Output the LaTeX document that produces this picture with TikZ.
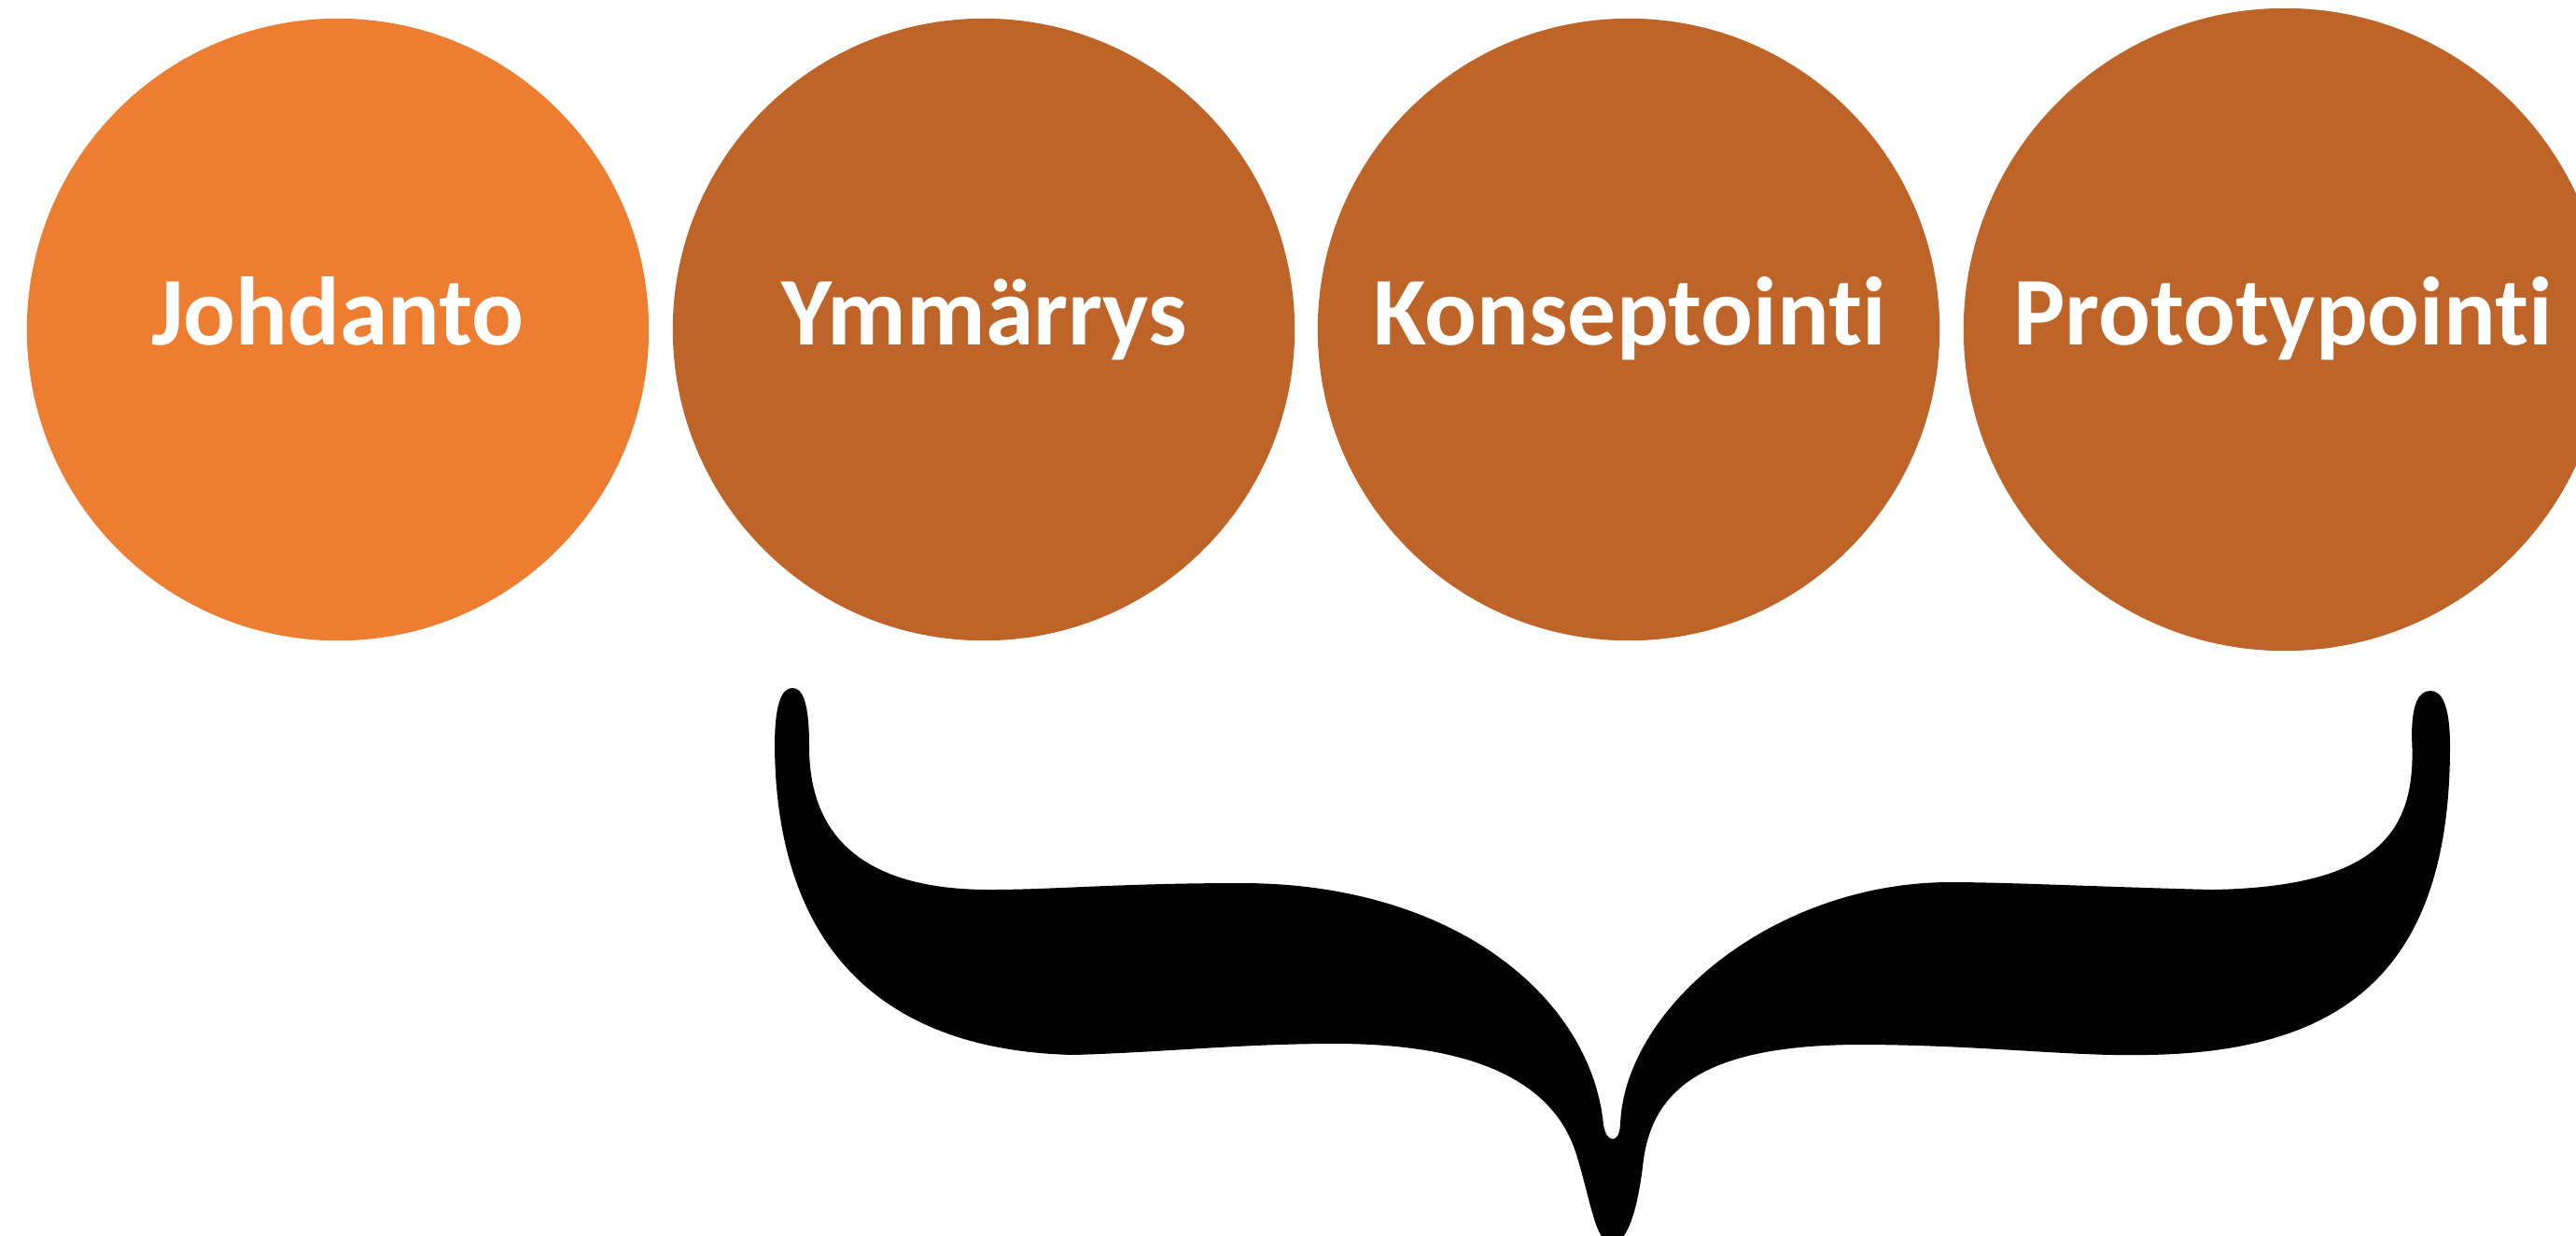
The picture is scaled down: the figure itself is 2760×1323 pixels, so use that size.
\documentclass[tikz,border=0pt]{standalone}
\usepackage{fontspec}
\setmainfont{Carlito}[Ligatures={NoCommon,NoRare,NoContextual}]
\definecolor{orangeA}{RGB}{237,125,49}
\definecolor{orangeB}{RGB}{191,100,40}
\tikzset{
  disc/.style={circle, inner sep=0pt, minimum size=#1, draw=none},
  lbl/.style={anchor=base, text=white, font=\fontsize{29.6pt}{32pt}\selectfont\bfseries, inner sep=0pt},
  bracefill/.style={fill=black, draw=none}
}
\begin{document}
\begin{tikzpicture}[x=0.01cm,y=-0.01cm]
\useasboundingbox (0,0) rectangle (2760,1323);
\node[disc=6.66cm, fill=orangeA] (c1) at (362,353) {};
\node[disc=6.66cm, fill=orangeB] (c2) at (1054,353) {};
\node[disc=6.66cm, fill=orangeB] (c3) at (1745,353) {};
\node[disc=6.88cm, fill=orangeB] (c4) at (2448,353) {};
\node[lbl] (t1) at (362,369) {Johdanto};
\node[lbl] (t2) at (1055,369) {Ymmärrys};
\node[lbl] (t3) at (1746,369) {Konseptointi};
\node[lbl] (t4) at (2446,369) {Prototypointi};
\fill[bracefill] (830,800)
  .. controls (832,1010) and (940,1125) .. (1150,1130)
  .. controls (1250,1127) and (1330,1118) .. (1430,1118)
  .. controls (1600,1118) and (1670,1170) .. (1690,1240)
  .. controls (1705,1290) and (1710,1332) .. (1727,1332)
  .. controls (1745,1332) and (1755,1290) .. (1760,1250)
  .. controls (1768,1170) and (1820,1120) .. (1990,1119)
  .. controls (2120,1119) and (2220,1132) .. (2300,1130)
  .. controls (2500,1127) and (2625,1050) .. (2625,800)
  .. controls (2625,752) and (2615,740) .. (2604,740)
  .. controls (2592,740) and (2584,752) .. (2584,790)
  .. controls (2590,890) and (2550,950) .. (2370,953)
  .. controls (2250,950) and (2150,945) .. (2090,945)
  .. controls (1900,945) and (1740,1080) .. (1736,1205)
  .. controls (1735,1216) and (1732,1220) .. (1728,1220)
  .. controls (1723,1220) and (1720,1215) .. (1718,1205)
  .. controls (1705,1070) and (1560,946) .. (1330,946)
  .. controls (1200,946) and (1130,953) .. (1060,953)
  .. controls (930,953) and (867,900) .. (867,800)
  .. controls (867,752) and (860,737) .. (849,737)
  .. controls (838,737) and (830,752) .. (830,800) -- cycle;
\end{tikzpicture}
\end{document}
